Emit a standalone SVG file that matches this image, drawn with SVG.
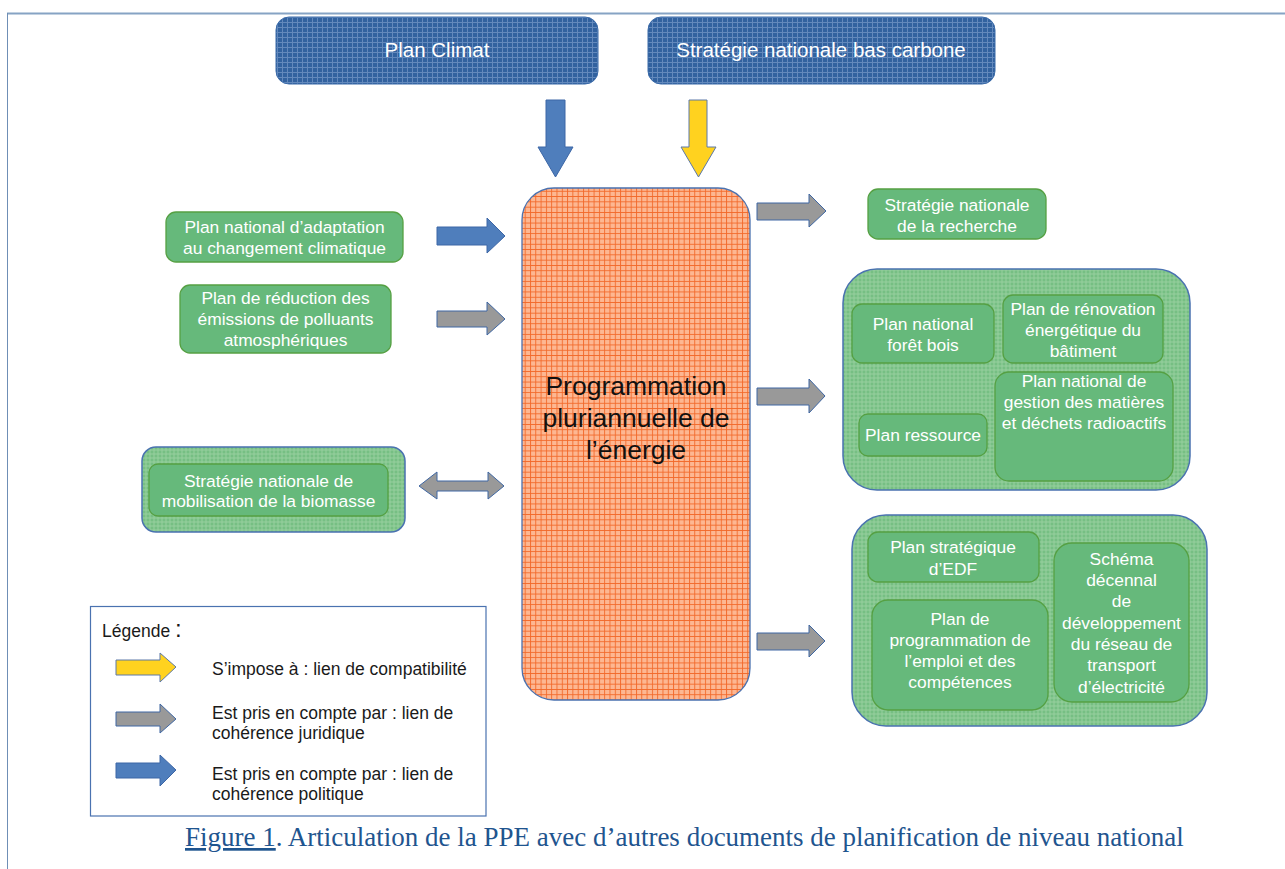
<svg xmlns="http://www.w3.org/2000/svg" width="1285" height="869" viewBox="0 0 1285 869">
<style>
text{font-family:"Liberation Sans",Arial,sans-serif;}
text.cap{font-family:"Liberation Serif","Times New Roman",serif;font-size:27px;fill:#1F558F;}
.w{fill:#fff;font-size:17.4px;text-anchor:middle;}
.top{fill:#fff;font-size:20.5px;text-anchor:middle;}
.lg{fill:#1a1a1a;font-size:17.5px;}
.node{fill:#66B97B;stroke:#55A043;stroke-width:1.3;}
.cont{fill:url(#gg);stroke:#4A72B0;stroke-width:1.5;}
.blue{fill:#4F7EBC;stroke:#3C66A6;stroke-width:1;}
.gray{fill:#999;stroke:#3F67A3;stroke-width:1;}
.yel{fill:#FFD21F;stroke:#5C78A8;stroke-width:1;}
</style>
<defs>
<pattern id="bg" width="5" height="5" patternUnits="userSpaceOnUse">
<rect width="5" height="5" fill="#32629F"/>
<path d="M0 2.5H5M2.5 0V5" stroke="#8AA9D4" stroke-width="1" opacity="0.55"/>
</pattern>
<pattern id="og" width="5.3" height="5.3" patternUnits="userSpaceOnUse">
<rect width="5.3" height="5.3" fill="#FDB792"/>
<path d="M0 0.5H5.3M0.5 0V5.3" stroke="#F2692A" stroke-width="0.9"/>
</pattern>
<pattern id="gg" width="4" height="4" patternUnits="userSpaceOnUse">
<rect width="4" height="4" fill="#76BF83"/>
<path d="M0 2H4M2 0V4" stroke="#A4D6AA" stroke-width="1" opacity="0.7"/>
</pattern>
</defs>
<rect width="1285" height="869" fill="#fff"/>
<path d="M7 13.5H1285" stroke="#86A3C4" stroke-width="2" fill="none"/>
<path d="M7.5 13V869" stroke="#6F8FB6" stroke-width="1" fill="none"/>

<g id="plan-climat">
<rect x="276" y="17" width="322" height="67" rx="13" fill="url(#bg)" stroke="#3A6AA8" stroke-width="1"/>
<text class="top" x="437" y="57">Plan Climat</text>
</g>
<g id="snbc">
<rect x="648" y="17" width="347" height="67" rx="13" fill="url(#bg)" stroke="#3A6AA8" stroke-width="1"/>
<text class="top" x="821" y="57">Stratégie nationale bas carbone</text>
</g>

<g id="ppe">
<rect x="522" y="188" width="228" height="512" rx="32" fill="url(#og)" stroke="#4A72B0" stroke-width="1.3"/>
<text x="636" y="395" font-size="26.5" text-anchor="middle" fill="#111">Programmation</text>
<text x="636" y="427" font-size="26.5" text-anchor="middle" fill="#111">pluriannuelle de</text>
<text x="636" y="459" font-size="26.5" text-anchor="middle" fill="#111">l’énergie</text>
</g>

<g id="pnacc">
<rect class="node" x="166" y="212" width="237" height="50" rx="10"/>
<text class="w" x="284.5" y="233">Plan national d’adaptation</text>
<text class="w" x="284.5" y="254">au changement climatique</text>
</g>
<g id="prepa">
<rect class="node" x="180" y="285" width="211" height="68" rx="10"/>
<text class="w" x="285.5" y="304">Plan de réduction des</text>
<text class="w" x="285.5" y="325">émissions de polluants</text>
<text class="w" x="285.5" y="346">atmosphériques</text>
</g>
<g id="snmb">
<rect class="cont" x="142" y="447" width="263" height="85" rx="14"/>
<rect class="node" x="149" y="464" width="239" height="52" rx="9"/>
<text class="w" x="268.5" y="487">Stratégie nationale de</text>
<text class="w" x="268.5" y="507">mobilisation de la biomasse</text>
</g>

<g id="snr">
<rect class="node" x="868" y="189" width="178" height="50" rx="10"/>
<text class="w" x="957" y="211">Stratégie nationale</text>
<text class="w" x="957" y="232">de la recherche</text>
</g>

<g id="groupe1">
<rect class="cont" x="843" y="269" width="347" height="221" rx="34"/>
<g id="pnfb">
<rect class="node" x="852" y="304" width="142" height="59" rx="10"/>
<text class="w" x="923" y="330">Plan national</text>
<text class="w" x="923" y="351">forêt bois</text>
</g>
<g id="preb">
<rect class="node" x="1003" y="295" width="160" height="68" rx="10"/>
<text class="w" x="1083" y="315">Plan de rénovation</text>
<text class="w" x="1083" y="336">énergétique du</text>
<text class="w" x="1083" y="357">bâtiment</text>
</g>
<g id="pres">
<rect class="node" x="859" y="414" width="128" height="42" rx="9"/>
<text class="w" x="923" y="441">Plan ressource</text>
</g>
<g id="pngmdr">
<rect class="node" x="995" y="372" width="178" height="109" rx="14"/>
<text class="w" x="1084" y="387">Plan national de</text>
<text class="w" x="1084" y="408">gestion des matières</text>
<text class="w" x="1084" y="429">et déchets radioactifs</text>
</g>
</g>

<g id="groupe2">
<rect class="cont" x="852" y="515" width="355" height="211" rx="34"/>
<g id="edf">
<rect class="node" x="868" y="532" width="171" height="50" rx="10"/>
<text class="w" x="953" y="553">Plan stratégique</text>
<text class="w" x="953" y="575">d’EDF</text>
</g>
<g id="ppec">
<rect class="node" x="872" y="600" width="176" height="110" rx="16"/>
<text class="w" x="960" y="625">Plan de</text>
<text class="w" x="960" y="646">programmation de</text>
<text class="w" x="960" y="667">l’emploi et des</text>
<text class="w" x="960" y="688">compétences</text>
</g>
<g id="sddr">
<rect class="node" x="1054" y="543" width="135" height="159" rx="18"/>
<text class="w" x="1121.5" y="565">Schéma</text>
<text class="w" x="1121.5" y="586">décennal</text>
<text class="w" x="1121.5" y="607">de</text>
<text class="w" x="1121.5" y="629">développement</text>
<text class="w" x="1121.5" y="650">du réseau de</text>
<text class="w" x="1121.5" y="671">transport</text>
<text class="w" x="1121.5" y="693">d’électricité</text>
</g>
</g>

<g id="connectors">
<polygon class="blue" points="546,100 565,100 565,147 573,147 555.5,177 538,147 546,147"/>
<polygon class="yel" points="689,100 707,100 707,147 716,147 698.5,177 681,147 689,147"/>
<polygon class="blue" points="437,227 487,227 487,218 505,236 487,253 487,245 437,245"/>
<polygon class="gray" points="437,311 487,311 487,302 505,319 487,335 487,327 437,327"/>
<polygon class="gray" points="419,486 437,472 437,481 488,481 488,472 504,486 488,499 488,491 437,491 437,499"/>
<polygon class="gray" points="757,203 809,203 809,194 826,211 809,227 809,220 757,220"/>
<polygon class="gray" points="757,388 809,388 809,379 825,396 809,413 809,405 757,405"/>
<polygon class="gray" points="757,633 809,633 809,625 825,641 809,657 809,650 757,650"/>
</g>

<g id="legende">
<rect x="90.5" y="606.5" width="395.5" height="209.5" fill="#fff" stroke="#4A72B0" stroke-width="1.2"/>
<text class="lg" x="102" y="637">Légende <tspan font-size="24">:</tspan></text>
<polygon class="yel" points="116,660 160,660 160,653 176,667 160,682 160,675 116,675"/>
<text class="lg" x="212" y="675">S’impose à : lien de compatibilité</text>
<polygon class="gray" points="116,712 160,712 160,704 176,719 160,733 160,726 116,726"/>
<text class="lg" x="212" y="719">Est pris en compte par : lien de</text>
<text class="lg" x="212" y="739">cohérence juridique</text>
<polygon class="blue" points="116,763 160,763 160,755 176,770 160,786 160,778 116,778"/>
<text class="lg" x="212" y="780">Est pris en compte par : lien de</text>
<text class="lg" x="212" y="800">cohérence politique</text>
</g>

<g id="caption">
<text class="cap" x="185" y="846"><tspan text-decoration="underline">Figure 1</tspan>. Articulation de la PPE avec d’autres documents de planification de niveau national</text>
</g>
</svg>
